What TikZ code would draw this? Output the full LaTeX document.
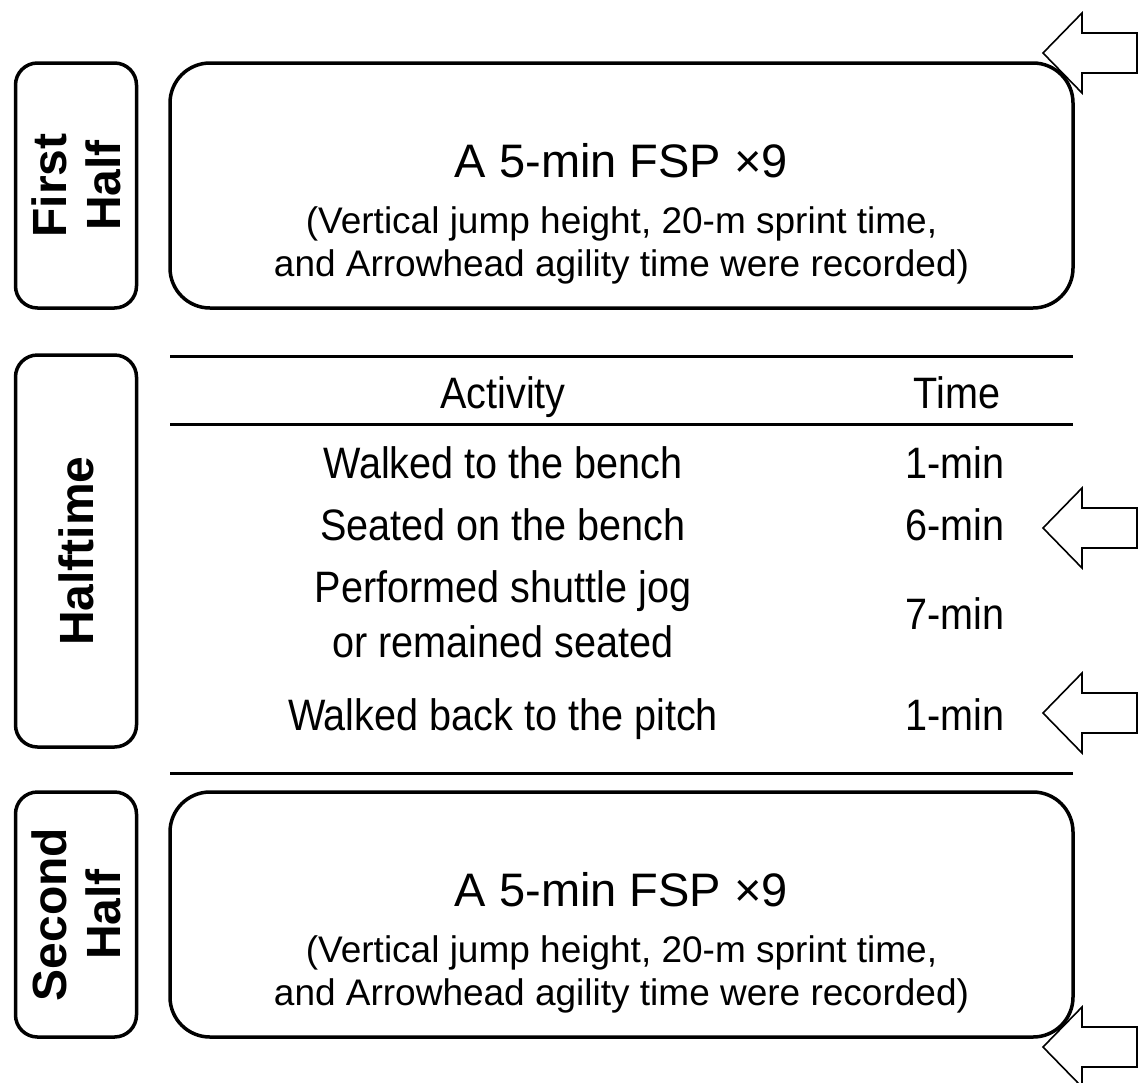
\documentclass[tikz,border=0pt]{standalone}
\usepackage{fontspec}
\setmainfont{Liberation Sans}
\newfontfamily\narrowfont[FakeStretch=0.9]{Liberation Sans}
\begin{document}
\begin{tikzpicture}[x=1pt,y=-1pt,
  bigbox/.style={draw, line width=3.5pt, rounded corners=40pt, minimum width=903pt, minimum height=245pt, inner sep=0pt},
  lblbox/.style={draw, line width=3.5pt, rounded corners=22pt, rotate=90, minimum height=121pt, align=center, inner sep=0pt, font=\bfseries\fontsize{48}{54}\selectfont},
  headtxt/.style={anchor=base, inner sep=0pt, font=\fontsize{47}{52}\selectfont},
  subtxt/.style={anchor=base, inner sep=0pt, font=\fontsize{37}{43}\selectfont},
  cell/.style={anchor=base, inner sep=0pt, font=\narrowfont\fontsize{44}{55}\selectfont},
  tabrule/.style={line width=3pt},
  barrow/.style={draw, line width=1.6pt, line join=miter},
  blockarrow/.pic={\draw[barrow] (0,0) -- (39,-40) -- (39,-20) -- (94,-20) -- (94,20) -- (39,20) -- (39,40) -- cycle;}
]
\useasboundingbox[fill=white] (0,0) rectangle (1145,1082);

% arrows
\pic (arrA) at (1043,53) {blockarrow};
\pic (arrB) at (1043,528) {blockarrow};
\pic (arrC) at (1043,713) {blockarrow};
\pic (arrD) at (1043,1047) {blockarrow};

% label boxes
\node[lblbox, minimum width=245pt] (fhlbl) at (76,185.5) {First\\Half};
\node[lblbox, minimum width=392pt] (htlbl) at (76,551) {Halftime};
\node[lblbox, minimum width=245pt] (shlbl) at (76,914.5) {Second\\Half};

% first half
\node[bigbox] (fhbox) at (621.5,185.5) {};
\node[headtxt] (fhhead) at (621.5,177) {A 5-min FSP ×9};
\node[subtxt] (fhsub1) at (621.5,233) {(Vertical jump height, 20-m sprint time,};
\node[subtxt] (fhsub2) at (621.5,276) {and Arrowhead agility time were recorded)};

% second half
\node[bigbox] (shbox) at (621.5,914.5) {};
\node[headtxt] (shhead) at (621.5,906) {A 5-min FSP ×9};
\node[subtxt] (shsub1) at (621.5,962) {(Vertical jump height, 20-m sprint time,};
\node[subtxt] (shsub2) at (621.5,1005) {and Arrowhead agility time were recorded)};

% table
\coordinate (r1l) at (170,356); \coordinate (r1r) at (1073,356);
\coordinate (r2l) at (170,424); \coordinate (r2r) at (1073,424);
\coordinate (r3l) at (170,773); \coordinate (r3r) at (1073,773);
\draw[tabrule] (r1l) -- (r1r);
\draw[tabrule] (r2l) -- (r2r);
\draw[tabrule] (r3l) -- (r3r);

\node[cell] (hact) at (503,408) {Activity};
\node[cell] (htime) at (957,408) {Time};
\node[cell] (a1) at (503,478) {Walked to the bench};
\node[cell] (t1) at (955,478) {1-min};
\node[cell] (a2) at (503,540) {Seated on the bench};
\node[cell] (t2) at (955,540) {6-min};
\node[cell] (a3a) at (503,602) {Performed shuttle jog};
\node[cell] (a3b) at (503,657) {or remained seated};
\node[cell] (t3) at (955,629) {7-min};
\node[cell] (a4) at (503,730) {Walked back to the pitch};
\node[cell] (t4) at (955,730) {1-min};
\end{tikzpicture}
\end{document}
